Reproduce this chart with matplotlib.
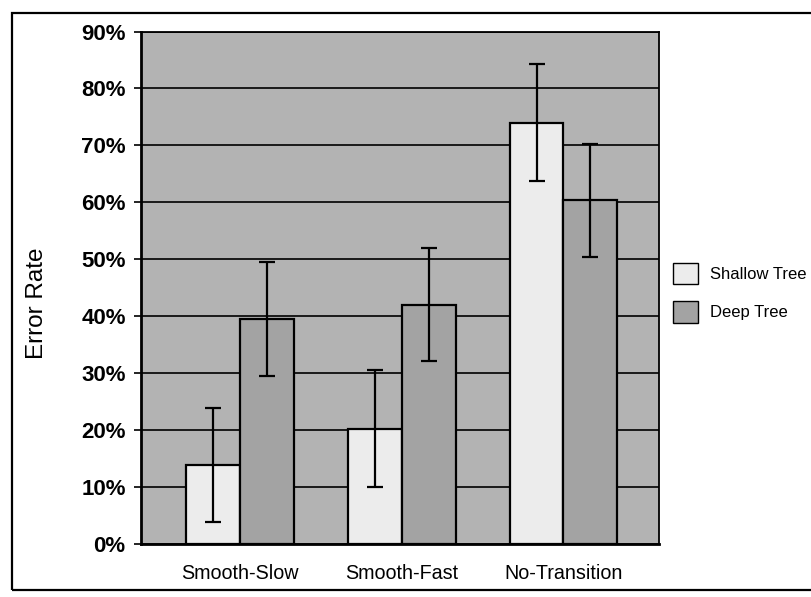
import matplotlib
matplotlib.use("Agg")
import matplotlib.pyplot as plt
import matplotlib.patches as mpatches
import numpy as np

categories = ["Smooth-Slow", "Smooth-Fast", "No-Transition"]
series_names = ["Shallow Tree", "Deep Tree"]
shallow_vals = [13.8, 20.2, 74.0]
deep_vals = [39.5, 42.0, 60.3]
shallow_err = [10.1, 10.3, 10.2]
deep_err = [10.0, 10.0, 10.0]
ytick_vals = [0, 10, 20, 30, 40, 50, 60, 70, 80, 90]
ytick_labels = ["0%", "10%", "20%", "30%", "40%", "50%", "60%", "70%", "80%", "90%"]

FONT = ["Liberation Sans", "DejaVu Sans"]
plt.rcParams['font.family'] = FONT

W, H = 812, 597
fig = plt.figure(figsize=(W / 100, H / 100), dpi=100)
fig.patch.set_facecolor("white")

# outer frame of the chart
frame = mpatches.Rectangle((12 / W, 1 - 590 / H), 1.2, (590 - 13) / H,
                           transform=fig.transFigure, fill=False,
                           edgecolor="black", linewidth=1.6, clip_on=False)
fig.add_artist(frame)

ax = fig.add_axes([141 / W, 1 - 543.5 / H, 518 / W, 512 / H])
ax.set_facecolor("#b3b3b3")

x = np.arange(len(categories))
bw = 0.333
err_kw = dict(ecolor="black", elinewidth=1.6, capsize=6, capthick=1.6)
b1 = ax.bar(x - bw / 2, shallow_vals, bw, color="#ececec", edgecolor="black",
            linewidth=1.6, yerr=shallow_err, error_kw=err_kw, zorder=3,
            label=series_names[0])
b2 = ax.bar(x + bw / 2, deep_vals, bw, color="#a3a3a3", edgecolor="black",
            linewidth=1.6, yerr=deep_err, error_kw=err_kw, zorder=3,
            label=series_names[1])

ax.set_ylim(0, 90)
ax.set_xlim(-0.61, 2.59)
ax.set_yticks(ytick_vals)
ax.set_yticklabels(ytick_labels, fontsize=16, fontweight="bold")
ax.set_xticks(x)
ax.set_xticklabels(categories, fontsize=14.2)
ax.tick_params(axis="y", length=5, width=1.2, pad=6, direction="out")
ax.tick_params(axis="x", length=0, pad=15)
ax.yaxis.grid(True, color="black", linewidth=1.2, zorder=1)
ax.set_axisbelow(True)

for side in ["left", "bottom"]:
    ax.spines[side].set_linewidth(2.0)
for side in ["top", "right"]:
    ax.spines[side].set_linewidth(1.3)

fig.text(37 / W, 1 - 303 / H, "Error Rate", rotation=90, fontsize=17.5,
         ha="center", va="center")

h1 = mpatches.Patch(facecolor="#ececec", edgecolor="black", linewidth=1.0)
h2 = mpatches.Patch(facecolor="#a3a3a3", edgecolor="black", linewidth=1.0)
leg = ax.legend([h1, h2], series_names, loc="upper left",
                bbox_to_anchor=(673 / W, 1 - 263 / H),
                bbox_transform=fig.transFigure, frameon=False,
                fontsize=12, handlelength=1.5, handleheight=1.6,
                handletextpad=0.7, labelspacing=1.0, borderpad=0,
                borderaxespad=0)

fig.savefig("out.png", dpi=100)
